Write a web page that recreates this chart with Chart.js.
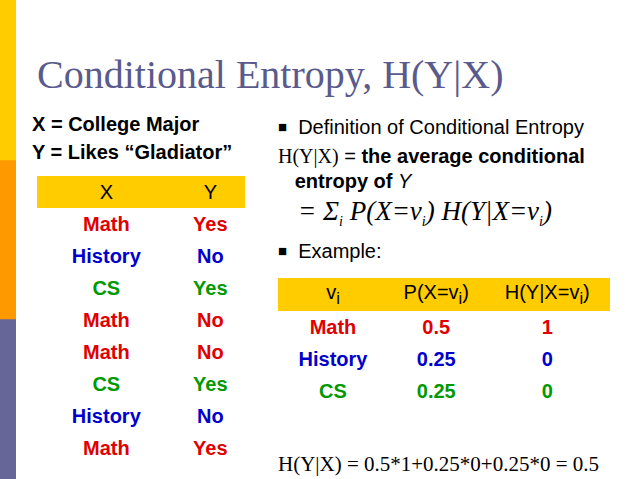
<!DOCTYPE html><html><head><meta charset="utf-8">
<script src="https://cdn.jsdelivr.net/npm/chart.js@4"></script>
<style>
body{margin:0;width:638px;height:479px;position:relative;background:#fff;font-family:"Liberation Sans",Arial,sans-serif;overflow:hidden}
#strip{position:absolute;left:0;top:0;width:16px;height:479px}
.a{position:absolute;white-space:nowrap}
.t{font-family:"Liberation Serif",serif}
td{text-align:center;font-weight:bold;font-size:20px;padding:0;height:32px}
.r{color:#e00000}.b{color:#0000cc}.g{color:#009900}
.bul{font-size:15px;vertical-align:2px}
</style></head><body>
<div id="strip"><canvas id="c"></canvas></div>
<div class="a t" style="left:37px;top:52px;font-size:40px;line-height:46px;color:#5a5a8c">Conditional Entropy, H(Y|X)</div>
<div class="a" style="left:32px;top:110px;font-size:20px;font-weight:bold;line-height:28px">X = College Major<br>Y = Likes “Gladiator”</div>
<table class="a" style="left:37px;top:176px;width:208px;border-collapse:collapse" id="t1"></table>
<div class="a" style="left:278px;top:116px;font-size:20px"><span class="bul">■</span>&nbsp; Definition of Conditional Entropy</div>
<div class="a" style="left:278px;top:144px;font-size:20px;line-height:25px"><span class="t">H(Y|X)</span> = <b>the average conditional</b><br>&nbsp;&nbsp;&nbsp;<b>entropy of</b> <i>Y</i></div>
<div class="a t" style="left:298px;top:196px;font-size:27px;font-style:italic">= Σ<sub style="font-size:14px">i</sub> P(X=v<sub style="font-size:14px">i</sub>) H(Y|X=v<sub style="font-size:14px">i</sub>)</div>
<div class="a" style="left:278px;top:240px;font-size:20px"><span class="bul">■</span>&nbsp; Example:</div>
<table class="a" style="left:278px;top:278px;width:332px;border-collapse:collapse" id="t2"></table>
<div class="a t" style="left:278px;top:452px;font-size:21px">H(Y|X) = 0.5*1+0.25*0+0.25*0 = 0.5</div>
<script>
const stripSegments=["top","middle","bottom"];
const stripHeights=[160,159,160];
const stripColors=["#ffcc00","#ff9900","#666699"];
const majors=["Math","History","CS","Math","Math","CS","History","Math"];
const likes=["Yes","No","Yes","No","No","Yes","No","Yes"];
const values=["Math","History","CS"];
const probs=["0.5","0.25","0.25"];
const condH=["1","0","0"];
const cls={Math:"r",History:"b",CS:"g"};
let h='<tr style="background:#ffcc00"><td style="font-weight:normal">X</td><td style="font-weight:normal">Y</td></tr>';
majors.forEach((m,i)=>{h+=`<tr><td class="${cls[m]}">${m}</td><td class="${cls[m]}">${likes[i]}</td></tr>`});
document.getElementById('t1').innerHTML=h;
let h2='<tr style="background:#ffcc00;height:33px"><td style="font-weight:normal;width:110px">v<sub>i</sub></td><td style="font-weight:normal">P(X=v<sub>i</sub>)</td><td style="font-weight:normal">H(Y|X=v<sub>i</sub>)</td></tr>';
values.forEach((v,i)=>{h2+=`<tr><td class="${cls[v]}">${v}</td><td class="${cls[v]}">${probs[i]}</td><td class="${cls[v]}">${condH[i]}</td></tr>`});
document.getElementById('t2').innerHTML=h2;
new Chart(document.getElementById('c'),{type:'bar',
data:{labels:["s"],datasets:stripSegments.map((s,i)=>({label:s,data:[stripHeights[i]],backgroundColor:stripColors[i],barPercentage:1,categoryPercentage:1}))},
options:{responsive:true,maintainAspectRatio:false,animation:false,layout:{padding:0},
plugins:{legend:{display:false},tooltip:{enabled:false}},
scales:{x:{stacked:true,display:false},y:{stacked:true,display:false,reverse:true,min:0,max:479}}}});
</script></body></html>
